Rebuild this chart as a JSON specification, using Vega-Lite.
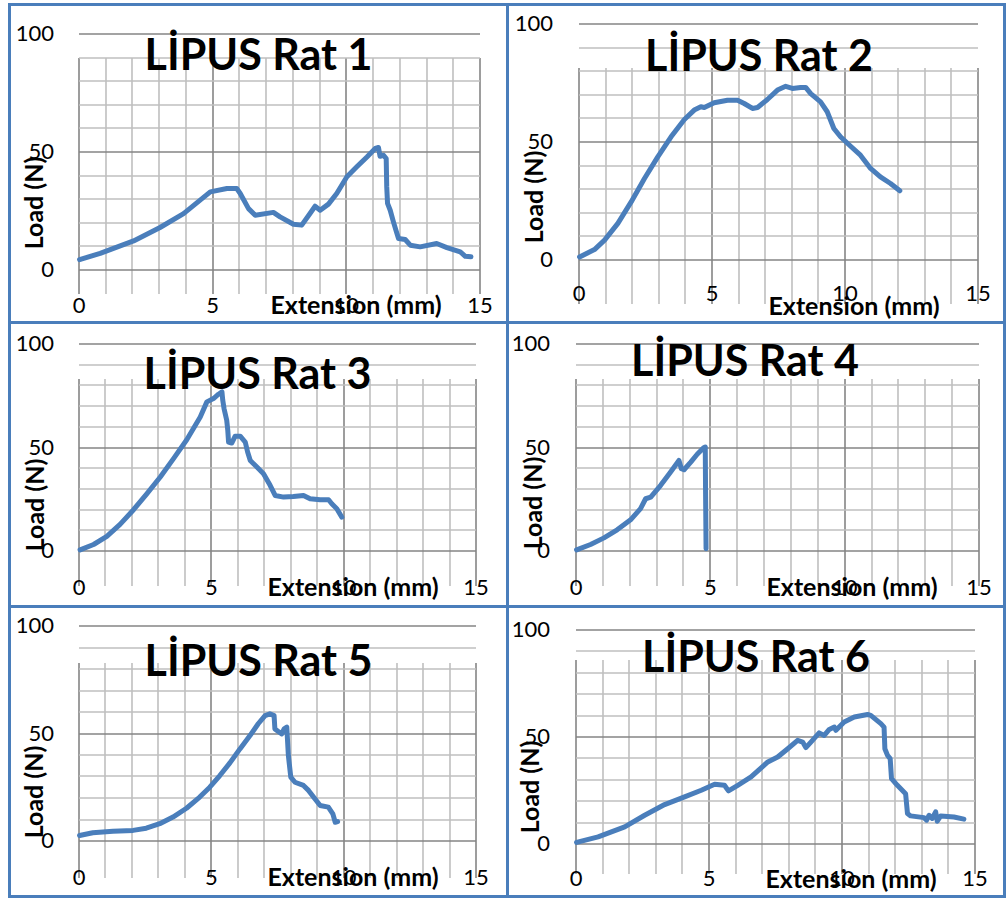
{
"$schema": "https://vega.github.io/schema/vega-lite/v6.json",
"padding": {"left": 7.5, "top": 2.5, "right": 0, "bottom": 0},
"background": "white",
"data": {"values": [
{"r":1,"x":0.04,"y":4.2},{"r":1,"x":0.81,"y":6.8},{"r":1,"x":2.06,"y":12.1},{"r":1,"x":3.05,"y":17.8},{"r":1,"x":3.93,"y":23.7},{"r":1,"x":4.55,"y":29.4},{"r":1,"x":4.93,"y":32.9},{"r":1,"x":5.55,"y":34.3},{"r":1,"x":5.92,"y":34.3},{"r":1,"x":6.05,"y":32.2},{"r":1,"x":6.36,"y":25.8},{"r":1,"x":6.61,"y":23.0},{"r":1,"x":7.29,"y":24.2},{"r":1,"x":7.54,"y":22.3},{"r":1,"x":8.04,"y":19.2},{"r":1,"x":8.35,"y":18.8},{"r":1,"x":8.66,"y":23.7},{"r":1,"x":8.85,"y":26.8},{"r":1,"x":9.04,"y":25.1},{"r":1,"x":9.35,"y":27.7},{"r":1,"x":9.66,"y":32.2},{"r":1,"x":10.04,"y":39.3},{"r":1,"x":10.41,"y":43.5},{"r":1,"x":10.79,"y":47.7},{"r":1,"x":11.1,"y":51.3},{"r":1,"x":11.22,"y":51.7},{"r":1,"x":11.28,"y":48.0},{"r":1,"x":11.41,"y":48.4},{"r":1,"x":11.51,"y":47.0},{"r":1,"x":11.53,"y":35.0},{"r":1,"x":11.56,"y":28.0},{"r":1,"x":11.66,"y":25.1},{"r":1,"x":11.78,"y":20.2},{"r":1,"x":11.91,"y":15.3},{"r":1,"x":11.97,"y":13.1},{"r":1,"x":12.22,"y":12.7},{"r":1,"x":12.41,"y":10.3},{"r":1,"x":12.78,"y":9.6},{"r":1,"x":13.4,"y":11.0},{"r":1,"x":13.78,"y":9.3},{"r":1,"x":14.28,"y":7.5},{"r":1,"x":14.47,"y":5.6},{"r":1,"x":14.68,"y":5.4},
{"r":2,"x":0.04,"y":1.1},{"r":2,"x":0.6,"y":4.2},{"r":2,"x":0.98,"y":8.2},{"r":2,"x":1.48,"y":15.3},{"r":2,"x":1.98,"y":24.4},{"r":2,"x":2.48,"y":34.3},{"r":2,"x":2.98,"y":43.5},{"r":2,"x":3.48,"y":52.0},{"r":2,"x":3.98,"y":59.3},{"r":2,"x":4.35,"y":63.3},{"r":2,"x":4.6,"y":64.7},{"r":2,"x":4.73,"y":64.4},{"r":2,"x":5.1,"y":66.4},{"r":2,"x":5.6,"y":67.5},{"r":2,"x":5.98,"y":67.5},{"r":2,"x":6.23,"y":66.1},{"r":2,"x":6.54,"y":64.0},{"r":2,"x":6.73,"y":64.4},{"r":2,"x":7.1,"y":67.8},{"r":2,"x":7.48,"y":71.8},{"r":2,"x":7.79,"y":73.4},{"r":2,"x":8.04,"y":72.5},{"r":2,"x":8.35,"y":72.9},{"r":2,"x":8.54,"y":72.9},{"r":2,"x":8.73,"y":70.3},{"r":2,"x":9.1,"y":66.8},{"r":2,"x":9.35,"y":62.6},{"r":2,"x":9.6,"y":55.5},{"r":2,"x":9.85,"y":52.0},{"r":2,"x":10.23,"y":48.0},{"r":2,"x":10.6,"y":44.2},{"r":2,"x":10.98,"y":38.6},{"r":2,"x":11.35,"y":35.0},{"r":2,"x":11.73,"y":32.2},{"r":2,"x":12.08,"y":29.1},
{"r":3,"x":0.06,"y":0.3},{"r":3,"x":0.57,"y":2.9},{"r":3,"x":1.07,"y":6.8},{"r":3,"x":1.57,"y":12.6},{"r":3,"x":2.08,"y":19.7},{"r":3,"x":2.58,"y":27.4},{"r":3,"x":3.09,"y":35.5},{"r":3,"x":3.59,"y":44.4},{"r":3,"x":4.09,"y":53.5},{"r":3,"x":4.6,"y":64.5},{"r":3,"x":4.85,"y":71.8},{"r":3,"x":5.1,"y":73.4},{"r":3,"x":5.29,"y":75.5},{"r":3,"x":5.42,"y":76.6},{"r":3,"x":5.45,"y":72.6},{"r":3,"x":5.5,"y":68.5},{"r":3,"x":5.6,"y":62.9},{"r":3,"x":5.64,"y":58.1},{"r":3,"x":5.67,"y":52.4},{"r":3,"x":5.79,"y":51.9},{"r":3,"x":5.92,"y":55.2},{"r":3,"x":6.11,"y":55.2},{"r":3,"x":6.3,"y":52.4},{"r":3,"x":6.39,"y":47.6},{"r":3,"x":6.49,"y":43.5},{"r":3,"x":6.74,"y":40.3},{"r":3,"x":6.99,"y":37.1},{"r":3,"x":7.24,"y":31.5},{"r":3,"x":7.43,"y":26.6},{"r":3,"x":7.75,"y":25.8},{"r":3,"x":8.12,"y":26.1},{"r":3,"x":8.5,"y":26.6},{"r":3,"x":8.75,"y":25.0},{"r":3,"x":9.13,"y":24.5},{"r":3,"x":9.45,"y":24.5},{"r":3,"x":9.57,"y":22.6},{"r":3,"x":9.76,"y":20.2},{"r":3,"x":9.95,"y":16.1},
{"r":4,"x":0.04,"y":0.3},{"r":4,"x":0.56,"y":2.9},{"r":4,"x":1.06,"y":6.1},{"r":4,"x":1.55,"y":10.0},{"r":4,"x":2.05,"y":14.8},{"r":4,"x":2.42,"y":20.2},{"r":4,"x":2.61,"y":25.0},{"r":4,"x":2.8,"y":25.8},{"r":4,"x":3.17,"y":31.5},{"r":4,"x":3.54,"y":37.9},{"r":4,"x":3.85,"y":43.5},{"r":4,"x":3.94,"y":39.5},{"r":4,"x":4.04,"y":39.0},{"r":4,"x":4.29,"y":42.7},{"r":4,"x":4.53,"y":46.5},{"r":4,"x":4.76,"y":49.5},{"r":4,"x":4.83,"y":50.0},{"r":4,"x":4.84,"y":30.6},{"r":4,"x":4.86,"y":0.8},
{"r":5,"x":0.04,"y":2.3},{"r":5,"x":0.54,"y":3.6},{"r":5,"x":1.3,"y":4.3},{"r":5,"x":2.06,"y":4.7},{"r":5,"x":2.56,"y":5.7},{"r":5,"x":3.07,"y":7.8},{"r":5,"x":3.57,"y":10.9},{"r":5,"x":4.08,"y":15.0},{"r":5,"x":4.58,"y":20.2},{"r":5,"x":4.96,"y":24.8},{"r":5,"x":5.34,"y":30.2},{"r":5,"x":5.72,"y":36.1},{"r":5,"x":6.1,"y":42.6},{"r":5,"x":6.48,"y":48.8},{"r":5,"x":6.79,"y":54.3},{"r":5,"x":7.05,"y":58.1},{"r":5,"x":7.23,"y":58.9},{"r":5,"x":7.39,"y":58.1},{"r":5,"x":7.42,"y":51.9},{"r":5,"x":7.55,"y":50.7},{"r":5,"x":7.68,"y":49.6},{"r":5,"x":7.77,"y":51.9},{"r":5,"x":7.87,"y":52.7},{"r":5,"x":7.93,"y":39.5},{"r":5,"x":8.02,"y":29.5},{"r":5,"x":8.18,"y":27.1},{"r":5,"x":8.5,"y":25.6},{"r":5,"x":8.69,"y":23.3},{"r":5,"x":8.88,"y":20.2},{"r":5,"x":9.13,"y":16.3},{"r":5,"x":9.44,"y":15.5},{"r":5,"x":9.61,"y":12.4},{"r":5,"x":9.7,"y":8.5},{"r":5,"x":9.79,"y":8.8},
{"r":6,"x":0.04,"y":0.5},{"r":6,"x":0.85,"y":3.1},{"r":6,"x":1.85,"y":7.8},{"r":6,"x":2.6,"y":13.2},{"r":6,"x":3.35,"y":18.2},{"r":6,"x":4.1,"y":21.8},{"r":6,"x":4.73,"y":24.9},{"r":6,"x":5.23,"y":27.7},{"r":6,"x":5.6,"y":27.2},{"r":6,"x":5.75,"y":24.6},{"r":6,"x":6.1,"y":27.2},{"r":6,"x":6.6,"y":31.1},{"r":6,"x":7.23,"y":38.1},{"r":6,"x":7.6,"y":40.4},{"r":6,"x":7.98,"y":44.3},{"r":6,"x":8.35,"y":48.2},{"r":6,"x":8.54,"y":47.4},{"r":6,"x":8.66,"y":44.8},{"r":6,"x":8.85,"y":47.4},{"r":6,"x":9.16,"y":51.7},{"r":6,"x":9.35,"y":50.5},{"r":6,"x":9.54,"y":53.3},{"r":6,"x":9.73,"y":54.4},{"r":6,"x":9.79,"y":52.9},{"r":6,"x":10.1,"y":56.8},{"r":6,"x":10.48,"y":59.1},{"r":6,"x":10.98,"y":60.3},{"r":6,"x":11.1,"y":59.9},{"r":6,"x":11.48,"y":56.0},{"r":6,"x":11.6,"y":54.4},{"r":6,"x":11.63,"y":44.3},{"r":6,"x":11.73,"y":41.2},{"r":6,"x":11.83,"y":39.7},{"r":6,"x":11.88,"y":30.3},{"r":6,"x":12.1,"y":27.2},{"r":6,"x":12.41,"y":23.3},{"r":6,"x":12.48,"y":14.0},{"r":6,"x":12.6,"y":12.9},{"r":6,"x":13.1,"y":12.1},{"r":6,"x":13.2,"y":10.9},{"r":6,"x":13.29,"y":13.2},{"r":6,"x":13.41,"y":11.7},{"r":6,"x":13.54,"y":14.8},{"r":6,"x":13.6,"y":10.4},{"r":6,"x":13.73,"y":12.9},{"r":6,"x":14.23,"y":12.4},{"r":6,"x":14.6,"y":11.4}
]},
"columns": 2,
"spacing": 0,
"bounds": "flush",
"concat": [
{"width": 498, "height": 318,
 "title": {"text": "LİPUS Rat 1", "offset": -74, "dx": 0},
 "transform": [{"filter": "datum.r === 1"}],
 "mark": {"type": "line"},
 "encoding": {
  "x": {"field": "x", "type": "quantitative", "scale": {"domain": [0, 15], "range": [69, 470], "nice": false, "zero": false},
        "axis": {"offset": -53, "values": [0,1,2,3,4,5,6,7,8,9,10,11,12,13,14,15], "labelExpr": "datum.value % 5 === 0 ? datum.label : ''", "gridColor": {"condition": {"test": "datum.value % 5 === 0", "value": "#858585"}, "value": "#bfbfbf"}, "labelPadding": 36, "labelBaseline": "middle", "title": "Extension (mm)", "titleX": 346, "titleY": 36, "titleBaseline": "middle"}},
  "y": {"field": "y", "type": "quantitative", "scale": {"domain": [0, 100], "range": [265, 29], "nice": false},
        "axis": {"offset": -69, "values": [0,10,20,30,40,50,60,70,80,90,100], "labelExpr": "datum.value % 50 === 0 ? datum.label : ''", "gridColor": {"condition": {"test": "datum.value % 50 === 0", "value": "#858585"}, "value": "#bfbfbf"}, "labelPadding": 25, "title": "Load (N)", "titleX": -44, "titleY": 198, "titleBaseline": "middle"}}
 }},
{"width": 497, "height": 318,
 "title": {"text": "LİPUS Rat 2", "offset": -75, "dx": 3},
 "transform": [{"filter": "datum.r === 2"}],
 "mark": {"type": "line"},
 "encoding": {
  "x": {"field": "x", "type": "quantitative", "scale": {"domain": [0, 15], "range": [71, 470], "nice": false, "zero": false},
        "axis": {"offset": -63, "values": [0,1,2,3,4,5,6,7,8,9,10,11,12,13,14,15], "labelExpr": "datum.value % 5 === 0 ? datum.label : ''", "gridColor": {"condition": {"test": "datum.value % 5 === 0", "value": "#858585"}, "value": "#bfbfbf"}, "labelPadding": 34, "labelBaseline": "middle", "title": "Extension (mm)", "titleX": 346, "titleY": 47, "titleBaseline": "middle"}},
  "y": {"field": "y", "type": "quantitative", "scale": {"domain": [0, 100], "range": [255, 19], "nice": false},
        "axis": {"offset": -71, "values": [0,10,20,30,40,50,60,70,80,90,100], "labelExpr": "datum.value % 50 === 0 ? datum.label : ''", "gridColor": {"condition": {"test": "datum.value % 50 === 0", "value": "#858585"}, "value": "#bfbfbf"}, "labelPadding": 26, "title": "Load (N)", "titleX": -44, "titleY": 192, "titleBaseline": "middle"}}
 }},
{"width": 498, "height": 284,
 "title": {"text": "LİPUS Rat 3", "offset": -75, "dx": -1},
 "transform": [{"filter": "datum.r === 3"}],
 "mark": {"type": "line"},
 "encoding": {
  "x": {"field": "x", "type": "quantitative", "scale": {"domain": [0, 15], "range": [69, 466], "nice": false, "zero": false},
        "axis": {"offset": -56, "values": [0,1,2,3,4,5,6,7,8,9,10,11,12,13,14,15], "labelExpr": "datum.value % 5 === 0 ? datum.label : ''", "gridColor": {"condition": {"test": "datum.value % 5 === 0", "value": "#858585"}, "value": "#bfbfbf"}, "labelPadding": 37, "labelBaseline": "middle", "title": "Extension (mm)", "titleX": 343, "titleY": 37, "titleBaseline": "middle"}},
  "y": {"field": "y", "type": "quantitative", "scale": {"domain": [0, 100], "range": [228, 21], "nice": false},
        "axis": {"offset": -69, "values": [0,10,20,30,40,50,60,70,80,90,100], "labelExpr": "datum.value % 50 === 0 ? datum.label : ''", "gridColor": {"condition": {"test": "datum.value % 50 === 0", "value": "#858585"}, "value": "#bfbfbf"}, "labelPadding": 25, "title": "Load (N)", "titleX": -43, "titleY": 182, "titleBaseline": "middle"}}
 }},
{"width": 497, "height": 284,
 "title": {"text": "LİPUS Rat 4", "offset": -62, "dx": -11},
 "transform": [{"filter": "datum.r === 4"}],
 "mark": {"type": "line"},
 "encoding": {
  "x": {"field": "x", "type": "quantitative", "scale": {"domain": [0, 15], "range": [68, 471], "nice": false, "zero": false},
        "axis": {"offset": -56, "values": [0,1,2,3,4,5,6,7,8,9,10,11,12,13,14,15], "labelExpr": "datum.value % 5 === 0 ? datum.label : ''", "gridColor": {"condition": {"test": "datum.value % 5 === 0", "value": "#858585"}, "value": "#bfbfbf"}, "labelPadding": 37, "labelBaseline": "middle", "title": "Extension (mm)", "titleX": 344, "titleY": 37, "titleBaseline": "middle"}},
  "y": {"field": "y", "type": "quantitative", "scale": {"domain": [0, 100], "range": [228, 21], "nice": false},
        "axis": {"offset": -68, "values": [0,10,20,30,40,50,60,70,80,90,100], "labelExpr": "datum.value % 50 === 0 ? datum.label : ''", "gridColor": {"condition": {"test": "datum.value % 50 === 0", "value": "#858585"}, "value": "#bfbfbf"}, "labelPadding": 26, "title": "Load (N)", "titleX": -42, "titleY": 180, "titleBaseline": "middle"}}
 }},
{"width": 498, "height": 290,
 "title": {"text": "LİPUS Rat 5", "offset": -78, "dx": 0},
 "transform": [{"filter": "datum.r === 5"}],
 "mark": {"type": "line"},
 "encoding": {
  "x": {"field": "x", "type": "quantitative", "scale": {"domain": [0, 15], "range": [69, 466], "nice": false, "zero": false},
        "axis": {"offset": -56, "values": [0,1,2,3,4,5,6,7,8,9,10,11,12,13,14,15], "labelExpr": "datum.value % 5 === 0 ? datum.label : ''", "gridColor": {"condition": {"test": "datum.value % 5 === 0", "value": "#858585"}, "value": "#bfbfbf"}, "labelPadding": 37, "labelBaseline": "middle", "title": "Extension (mm)", "titleX": 343, "titleY": 37, "titleBaseline": "middle"}},
  "y": {"field": "y", "type": "quantitative", "scale": {"domain": [0, 100], "range": [234, 19], "nice": false},
        "axis": {"offset": -69, "values": [0,10,20,30,40,50,60,70,80,90,100], "labelExpr": "datum.value % 50 === 0 ? datum.label : ''", "gridColor": {"condition": {"test": "datum.value % 50 === 0", "value": "#858585"}, "value": "#bfbfbf"}, "labelPadding": 25, "title": "Load (N)", "titleX": -44, "titleY": 185, "titleBaseline": "middle"}}
 }},
{"width": 497, "height": 290,
 "title": {"text": "LİPUS Rat 6", "offset": -74, "dx": 0},
 "transform": [{"filter": "datum.r === 6"}],
 "mark": {"type": "line"},
 "encoding": {
  "x": {"field": "x", "type": "quantitative", "scale": {"domain": [0, 15], "range": [68, 467], "nice": false, "zero": false},
        "axis": {"offset": -53, "values": [0,1,2,3,4,5,6,7,8,9,10,11,12,13,14,15], "labelExpr": "datum.value % 5 === 0 ? datum.label : ''", "gridColor": {"condition": {"test": "datum.value % 5 === 0", "value": "#858585"}, "value": "#bfbfbf"}, "labelPadding": 35, "labelBaseline": "middle", "title": "Extension (mm)", "titleX": 343, "titleY": 36, "titleBaseline": "middle"}},
  "y": {"field": "y", "type": "quantitative", "scale": {"domain": [0, 100], "range": [237, 23], "nice": false},
        "axis": {"offset": -68, "values": [0,10,20,30,40,50,60,70,80,90,100], "labelExpr": "datum.value % 50 === 0 ? datum.label : ''", "gridColor": {"condition": {"test": "datum.value % 50 === 0", "value": "#858585"}, "value": "#bfbfbf"}, "labelPadding": 26, "title": "Load (N)", "titleX": -45, "titleY": 180, "titleBaseline": "middle"}}
 }}
],
"config": {
 "view": {"stroke": "#4A7EBB", "strokeWidth": 3},
 "line": {"color": "#4A7EBB", "strokeWidth": 5, "strokeCap": "round", "strokeJoin": "round"},
 "axis": {"domain": false, "ticks": false, "grid": true, "gridWidth": 1.6, "gridOpacity": 1, "labelFont": "Lato", "labelFontSize": 22, "labelColor": "black", "labelFlush": false, "labelOverlap": false, "labelBound": false, "titleFont": "Lato", "titleFontSize": 25, "titleFontWeight": "bold", "titleColor": "black", "titlePadding": 0},
 "title": {"font": "Lato", "fontSize": 43, "fontWeight": "bold", "color": "black", "anchor": "middle", "frame": "group", "baseline": "alphabetic"}
}
}
